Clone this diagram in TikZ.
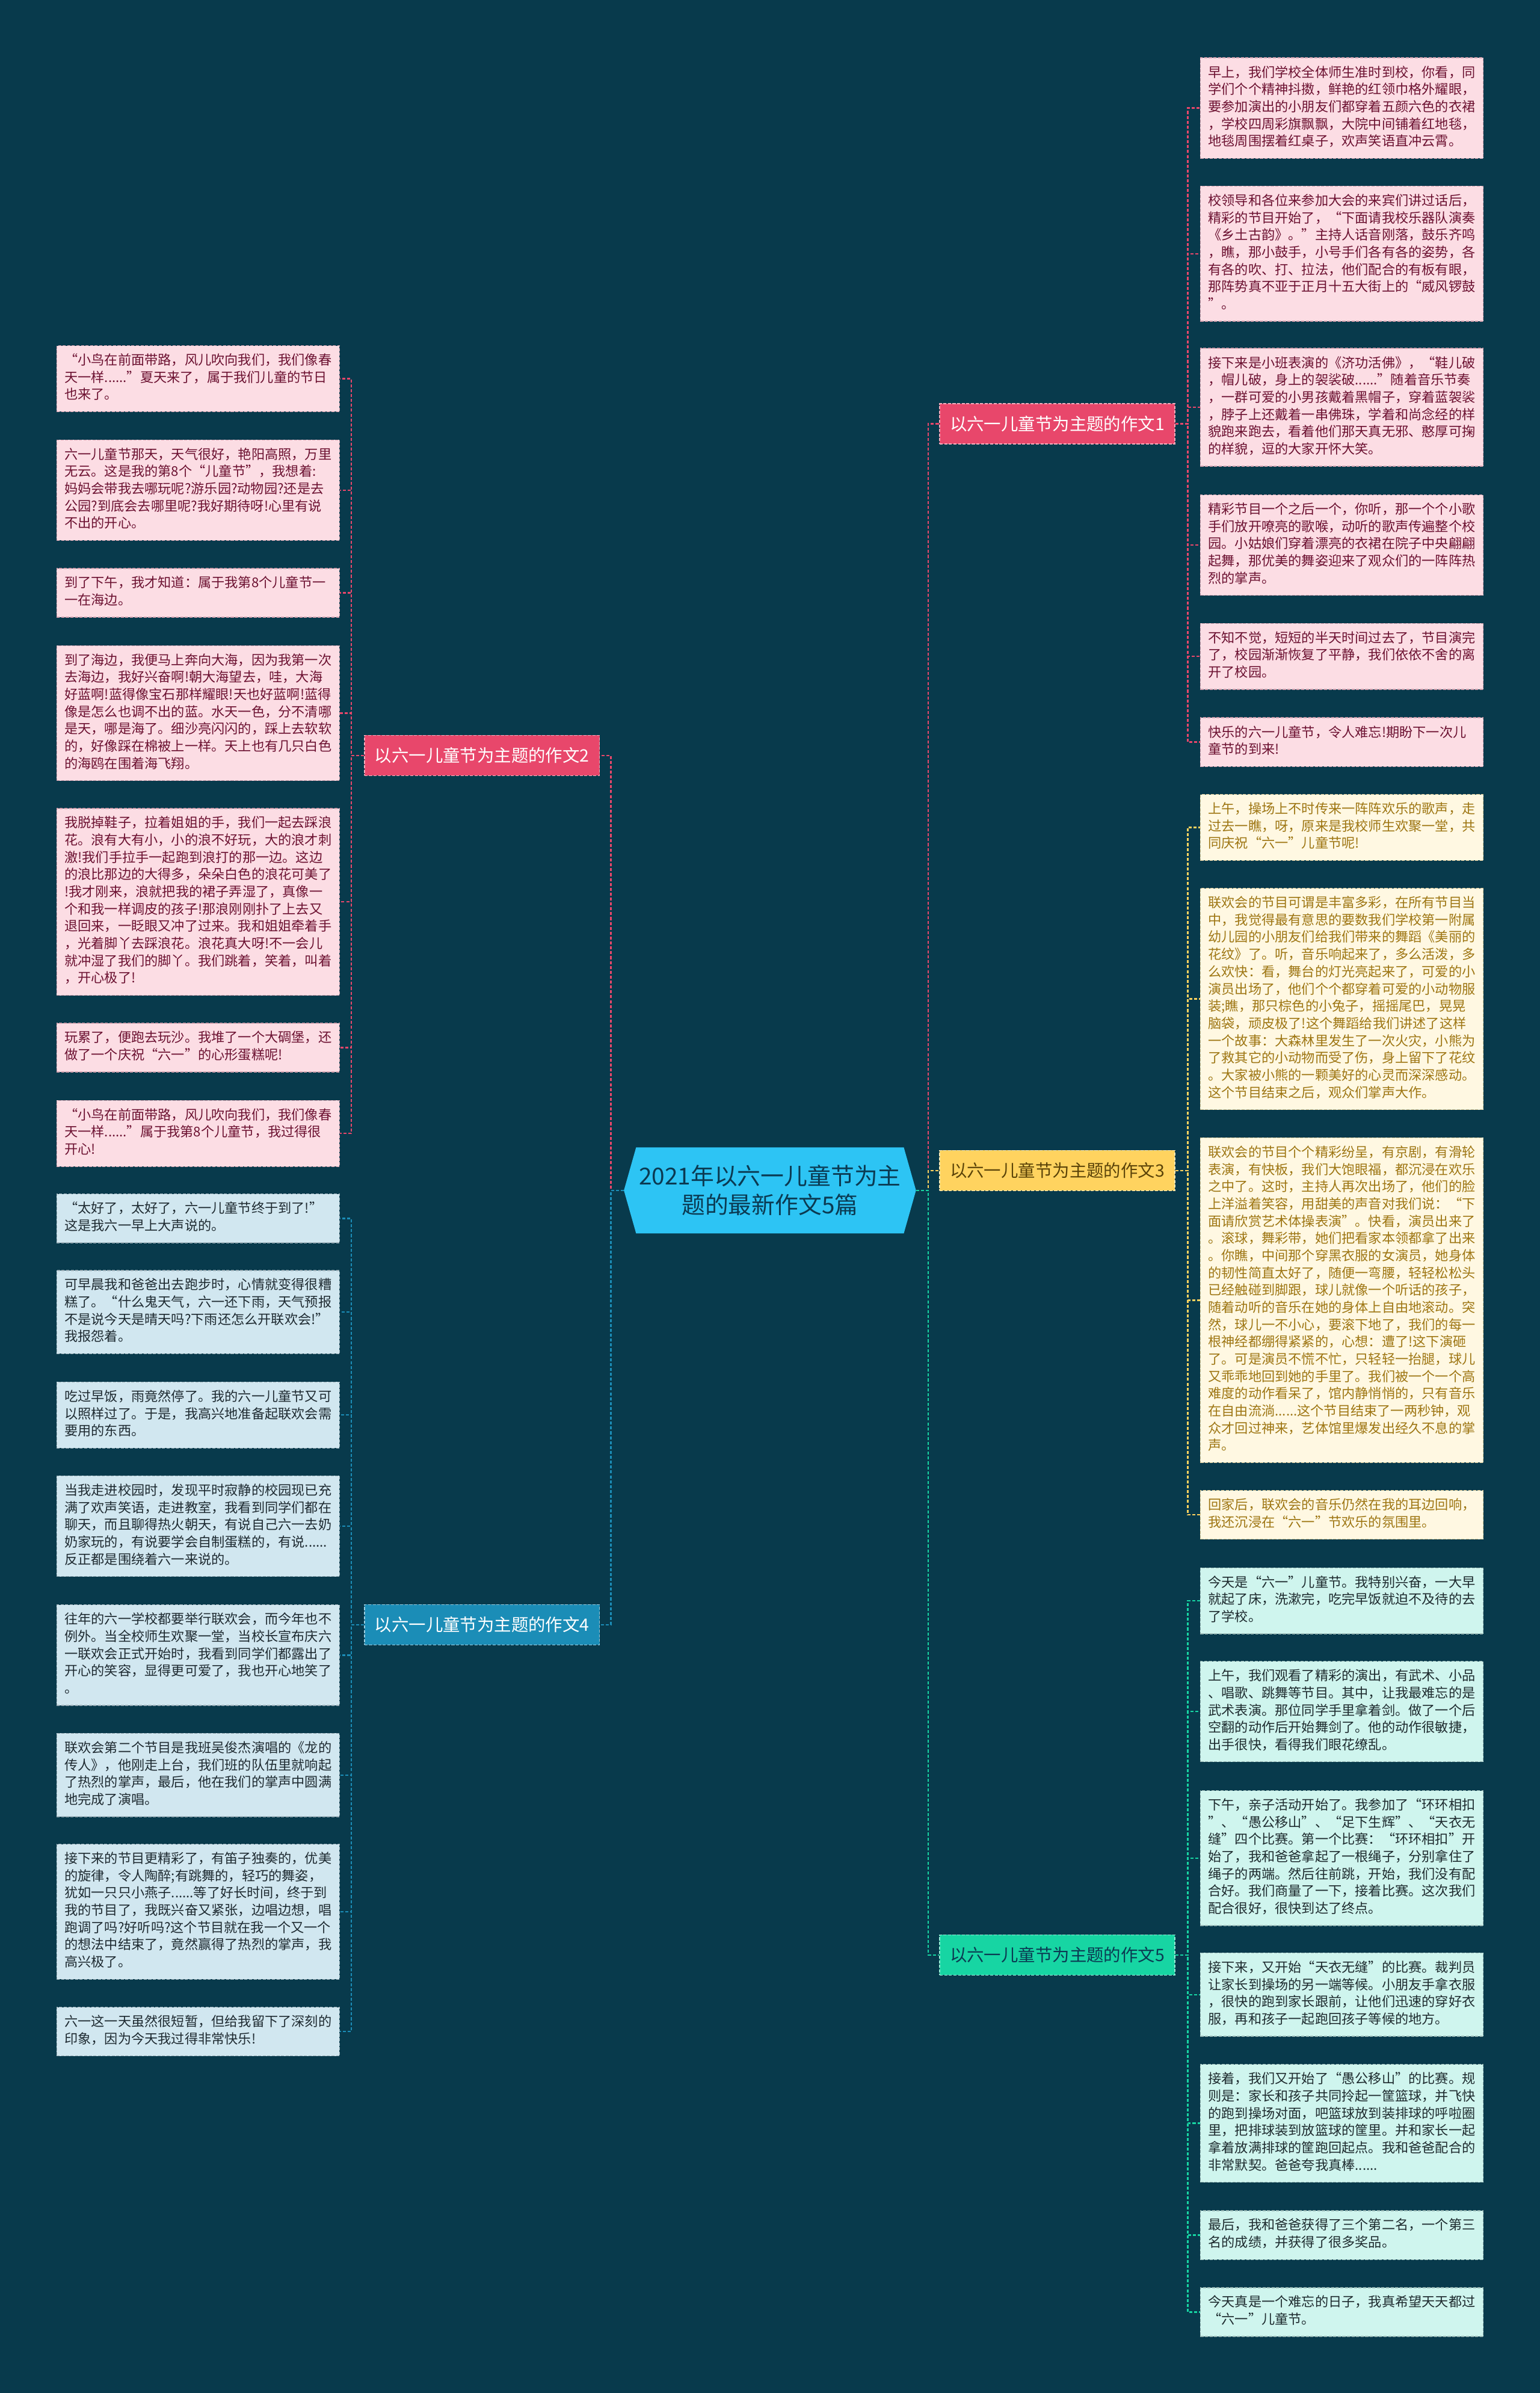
\documentclass[tikz,border=0pt]{standalone}
\usepackage{fontspec}
\setmainfont{Noto Sans CJK SC}
\usetikzlibrary{backgrounds,calc}
\newcommand\leaffont{\fontsize{8.75pt}{11.3pt}\selectfont}
\newcommand\branchfont{\fontsize{11.2pt}{13pt}\selectfont}
\newcommand\rootfont{\fontsize{15.3pt}{19pt}\selectfont}
\definecolor{bg}{HTML}{083A4C}
\definecolor{mainfill}{HTML}{2DC4F4}
\definecolor{maintext}{HTML}{0B3A52}
\definecolor{pinkb}{HTML}{E8476B}
\definecolor{yellowb}{HTML}{FFD35F}
\definecolor{blueb}{HTML}{1B8DB7}
\definecolor{greenb}{HTML}{17D5A3}
\definecolor{pinkf}{HTML}{FCDDE4}
\definecolor{pinkt}{HTML}{6C1131}
\definecolor{yellowf}{HTML}{FFF8E2}
\definecolor{yellowt}{HTML}{9E7613}
\definecolor{greenf}{HTML}{CFF5EE}
\definecolor{greent}{HTML}{1E2B2F}
\definecolor{bluef}{HTML}{D1E7F0}
\definecolor{bluet}{HTML}{1E2A31}
\definecolor{ybtext}{HTML}{5A4308}
\tikzset{
  conn/.style={line width=0.9pt, dash pattern=on 2pt off 1.2pt},
  leaf/.style={draw, line width=0.5pt, dash pattern=on 2pt off 1pt, text width=175pt, align=left,
    inner xsep=5.15pt, inner ysep=4.7pt, font=\leaffont,
    execute at begin node=\strut, execute at end node=\strut},
  leafR/.style={leaf, anchor=north west},
  leafL/.style={leaf, anchor=north east},
  pinkleaf/.style={fill=pinkf, draw=pinkt!30!pinkf, text=pinkt},
  yellowleaf/.style={fill=yellowf, draw=yellowt!35!yellowf, text=yellowt},
  greenleaf/.style={fill=greenf, draw=greent!30!greenf, text=greent},
  blueleaf/.style={fill=bluef, draw=bluet!30!bluef, text=bluet},
  branch/.style={minimum width=154pt, minimum height=26.4pt, inner sep=0pt, font=\branchfont,
    draw, line width=0.6pt, dash pattern=on 2pt off 1pt},
  mainnode/.style={minimum width=175pt, minimum height=56pt, inner sep=0pt, align=center,
    font=\rootfont, text=maintext},
}
\begin{document}
\begin{tikzpicture}[x=1pt,y=-1pt]
\useasboundingbox (0,0) rectangle (1009,1568);

% root
\node[mainnode] (main) at (504.5,780) {2021年以六一儿童节为主\\题的最新作文5篇};
\coordinate (mainR) at ($(main.east)+(8,0)$);
\coordinate (mainL) at ($(main.west)+(-8,0)$);

% branches
\node[branch, fill=pinkb, draw=white!55!pinkb, text=white] (b1) at (692.75,277.7) {以六一儿童节为主题的作文1};
\node[branch, fill=yellowb, draw=white!55!yellowb, text=ybtext] (b3) at (692.75,767) {以六一儿童节为主题的作文3};
\node[branch, fill=greenb, draw=white!55!greenb, text=maintext] (b5) at (692.75,1281) {以六一儿童节为主题的作文5};
\node[branch, fill=pinkb, draw=white!55!pinkb, text=white] (b2) at (315.8,495) {以六一儿童节为主题的作文2};
\node[branch, fill=blueb, draw=white!55!blueb, text=white] (b4) at (315.8,1064.6) {以六一儿童节为主题的作文4};

% ---------- essay 1 leaves
\node[leafR,pinkleaf] (r11) at (786.3,37.6) {早上，我们学校全体师生准时到校，你看，同\\学们个个精神抖擞，鲜艳的红领巾格外耀眼，\\要参加演出的小朋友们都穿着五颜六色的衣裙\\，学校四周彩旗飘飘，大院中间铺着红地毯，\\地毯周围摆着红桌子，欢声笑语直冲云霄。};
\node[leafR,pinkleaf] (r12) at (786.3,121.7) {校领导和各位来参加大会的来宾们讲过话后，\\精彩的节目开始了，“下面请我校乐器队演奏\\《乡土古韵》。”主持人话音刚落，鼓乐齐鸣\\，瞧，那小鼓手，小号手们各有各的姿势，各\\有各的吹、打、拉法，他们配合的有板有眼，\\那阵势真不亚于正月十五大街上的“威风锣鼓\\”。};
\node[leafR,pinkleaf] (r13) at (786.3,228) {接下来是小班表演的《济功活佛》，“鞋儿破\\，帽儿破，身上的袈裟破......”随着音乐节奏\\，一群可爱的小男孩戴着黑帽子，穿着蓝袈裟\\，脖子上还戴着一串佛珠，学着和尚念经的样\\貌跑来跑去，看着他们那天真无邪、憨厚可掬\\的样貌，逗的大家开怀大笑。};
\node[leafR,pinkleaf] (r14) at (786.3,324) {精彩节目一个之后一个，你听，那一个个小歌\\手们放开嘹亮的歌喉，动听的歌声传遍整个校\\园。小姑娘们穿着漂亮的衣裙在院子中央翩翩\\起舞，那优美的舞姿迎来了观众们的一阵阵热\\烈的掌声。};
\node[leafR,pinkleaf] (r15) at (786.3,408.2) {不知不觉，短短的半天时间过去了，节目演完\\了，校园渐渐恢复了平静，我们依依不舍的离\\开了校园。};
\node[leafR,pinkleaf] (r16) at (786.3,470) {快乐的六一儿童节，令人难忘!期盼下一次儿\\童节的到来!};

% ---------- essay 3 leaves
\node[leafR,yellowleaf] (r31) at (786.3,520.3) {上午，操场上不时传来一阵阵欢乐的歌声，走\\过去一瞧，呀，原来是我校师生欢聚一堂，共\\同庆祝“六一”儿童节呢!};
\node[leafR,yellowleaf] (r32) at (786.3,581.8) {联欢会的节目可谓是丰富多彩，在所有节目当\\中，我觉得最有意思的要数我们学校第一附属\\幼儿园的小朋友们给我们带来的舞蹈《美丽的\\花纹》了。听，音乐响起来了，多么活泼，多\\么欢快：看，舞台的灯光亮起来了，可爱的小\\演员出场了，他们个个都穿着可爱的小动物服\\装;瞧，那只棕色的小兔子，摇摇尾巴，晃晃\\脑袋，顽皮极了!这个舞蹈给我们讲述了这样\\一个故事：大森林里发生了一次火灾，小熊为\\了救其它的小动物而受了伤，身上留下了花纹\\。大家被小熊的一颗美好的心灵而深深感动。\\这个节目结束之后，观众们掌声大作。};
\node[leafR,yellowleaf] (r33) at (786.3,745.3) {联欢会的节目个个精彩纷呈，有京剧，有滑轮\\表演，有快板，我们大饱眼福，都沉浸在欢乐\\之中了。这时，主持人再次出场了，他们的脸\\上洋溢着笑容，用甜美的声音对我们说：“下\\面请欣赏艺术体操表演”。快看，演员出来了\\。滚球，舞彩带，她们把看家本领都拿了出来\\。你瞧，中间那个穿黑衣服的女演员，她身体\\的韧性简直太好了，随便一弯腰，轻轻松松头\\已经触碰到脚跟，球儿就像一个听话的孩子，\\随着动听的音乐在她的身体上自由地滚动。突\\然，球儿一不小心，要滚下地了，我们的每一\\根神经都绷得紧紧的，心想：遭了!这下演砸\\了。可是演员不慌不忙，只轻轻一抬腿，球儿\\又乖乖地回到她的手里了。我们被一个一个高\\难度的动作看呆了，馆内静悄悄的，只有音乐\\在自由流淌......这个节目结束了一两秒钟，观\\众才回过神来，艺体馆里爆发出经久不息的掌\\声。};
\node[leafR,yellowleaf] (r34) at (786.3,976.3) {回家后，联欢会的音乐仍然在我的耳边回响，\\我还沉浸在“六一”节欢乐的氛围里。};

% ---------- essay 5 leaves
\node[leafR,greenleaf] (r51) at (786.3,1027) {今天是“六一”儿童节。我特别兴奋，一大早\\就起了床，洗漱完，吃完早饭就迫不及待的去\\了学校。};
\node[leafR,greenleaf] (r52) at (786.3,1088.3) {上午，我们观看了精彩的演出，有武术、小品\\、唱歌、跳舞等节目。其中，让我最难忘的是\\武术表演。那位同学手里拿着剑。做了一个后\\空翻的动作后开始舞剑了。他的动作很敏捷，\\出手很快，看得我们眼花缭乱。};
\node[leafR,greenleaf] (r53) at (786.3,1173) {下午，亲子活动开始了。我参加了“环环相扣\\”、“愚公移山”、“足下生辉”、“天衣无\\缝”四个比赛。第一个比赛：“环环相扣”开\\始了，我和爸爸拿起了一根绳子，分别拿住了\\绳子的两端。然后往前跳，开始，我们没有配\\合好。我们商量了一下，接着比赛。这次我们\\配合很好，很快到达了终点。};
\node[leafR,greenleaf] (r54) at (786.3,1279.4) {接下来，又开始“天衣无缝”的比赛。裁判员\\让家长到操场的另一端等候。小朋友手拿衣服\\，很快的跑到家长跟前，让他们迅速的穿好衣\\服，再和孩子一起跑回孩子等候的地方。};
\node[leafR,greenleaf] (r55) at (786.3,1352.4) {接着，我们又开始了“愚公移山”的比赛。规\\则是：家长和孩子共同拎起一筐篮球，并飞快\\的跑到操场对面，吧篮球放到装排球的呼啦圈\\里，把排球装到放篮球的筐里。并和家长一起\\拿着放满排球的筐跑回起点。我和爸爸配合的\\非常默契。爸爸夸我真棒......};
\node[leafR,greenleaf] (r56) at (786.3,1448.3) {最后，我和爸爸获得了三个第二名，一个第三\\名的成绩，并获得了很多奖品。};
\node[leafR,greenleaf] (r57) at (786.3,1498.7) {今天真是一个难忘的日子，我真希望天天都过\\“六一”儿童节。};

% ---------- essay 2 leaves
\node[leafL,pinkleaf] (l21) at (222.7,226.2) {“小鸟在前面带路，风儿吹向我们，我们像春\\天一样......”夏天来了，属于我们儿童的节日\\也来了。};
\node[leafL,pinkleaf] (l22) at (222.7,288) {六一儿童节那天，天气很好，艳阳高照，万里\\无云。这是我的第8个“儿童节”，我想着:\\妈妈会带我去哪玩呢?游乐园?动物园?还是去\\公园?到底会去哪里呢?我好期待呀!心里有说\\不出的开心。};
\node[leafL,pinkleaf] (l23) at (222.7,372.2) {到了下午，我才知道：属于我第8个儿童节一\\一在海边。};
\node[leafL,pinkleaf] (l24) at (222.7,422.8) {到了海边，我便马上奔向大海，因为我第一次\\去海边，我好兴奋啊!朝大海望去，哇，大海\\好蓝啊!蓝得像宝石那样耀眼!天也好蓝啊!蓝得\\像是怎么也调不出的蓝。水天一色，分不清哪\\是天，哪是海了。细沙亮闪闪的，踩上去软软\\的，好像踩在棉被上一样。天上也有几只白色\\的海鸥在围着海飞翔。};
\node[leafL,pinkleaf] (l25) at (222.7,529.5) {我脱掉鞋子，拉着姐姐的手，我们一起去踩浪\\花。浪有大有小，小的浪不好玩，大的浪才刺\\激!我们手拉手一起跑到浪打的那一边。这边\\的浪比那边的大得多，朵朵白色的浪花可美了\\!我才刚来，浪就把我的裙子弄湿了，真像一\\个和我一样调皮的孩子!那浪刚刚扑了上去又\\退回来，一眨眼又冲了过来。我和姐姐牵着手\\，光着脚丫去踩浪花。浪花真大呀!不一会儿\\就冲湿了我们的脚丫。我们跳着，笑着，叫着\\，开心极了!};
\node[leafL,pinkleaf] (l26) at (222.7,670.2) {玩累了，便跑去玩沙。我堆了一个大碉堡，还\\做了一个庆祝“六一”的心形蛋糕呢!};
\node[leafL,pinkleaf] (l27) at (222.7,720.8) {“小鸟在前面带路，风儿吹向我们，我们像春\\天一样......”属于我第8个儿童节，我过得很\\开心!};

% ---------- essay 4 leaves
\node[leafL,blueleaf] (l41) at (222.7,782.1) {“太好了，太好了，六一儿童节终于到了!”\\这是我六一早上大声说的。};
\node[leafL,blueleaf] (l42) at (222.7,832.2) {可早晨我和爸爸出去跑步时，心情就变得很糟\\糕了。“什么鬼天气，六一还下雨，天气预报\\不是说今天是晴天吗?下雨还怎么开联欢会!”\\我报怨着。};
\node[leafL,blueleaf] (l43) at (222.7,905.3) {吃过早饭，雨竟然停了。我的六一儿童节又可\\以照样过了。于是，我高兴地准备起联欢会需\\要用的东西。};
\node[leafL,blueleaf] (l44) at (222.7,966.8) {当我走进校园时，发现平时寂静的校园现已充\\满了欢声笑语，走进教室，我看到同学们都在\\聊天，而且聊得热火朝天，有说自己六一去奶\\奶家玩的，有说要学会自制蛋糕的，有说......\\反正都是围绕着六一来说的。};
\node[leafL,blueleaf] (l45) at (222.7,1051.3) {往年的六一学校都要举行联欢会，而今年也不\\例外。当全校师生欢聚一堂，当校长宣布庆六\\一联欢会正式开始时，我看到同学们都露出了\\开心的笑容，显得更可爱了，我也开心地笑了\\。};
\node[leafL,blueleaf] (l46) at (222.7,1135.5) {联欢会第二个节目是我班吴俊杰演唱的《龙的\\传人》，他刚走上台，我们班的队伍里就响起\\了热烈的掌声，最后，他在我们的掌声中圆满\\地完成了演唱。};
\node[leafL,blueleaf] (l47) at (222.7,1208.1) {接下来的节目更精彩了，有笛子独奏的，优美\\的旋律，令人陶醉;有跳舞的，轻巧的舞姿，\\犹如一只只小燕子......等了好长时间，终于到\\我的节目了，我既兴奋又紧张，边唱边想，唱\\跑调了吗?好听吗?这个节目就在我一个又一个\\的想法中结束了，竟然赢得了热烈的掌声，我\\高兴极了。};
\node[leafL,blueleaf] (l48) at (222.7,1314.9) {六一这一天虽然很短暂，但给我留下了深刻的\\印象，因为今天我过得非常快乐!};

% ---------- connectors root -> branches
\draw[conn,pinkb] (mainR) -- ++(8,0) |- (b1.west);
\draw[conn,yellowb] (mainR) -- ++(8,0) |- (b3.west);
\draw[conn,greenb] (mainR) -- ++(8,0) |- (b5.west);
\draw[conn,pinkb] (mainL) -- ++(-8.5,0) |- (b2.east);
\draw[conn,blueb] (mainL) -- ++(-8.5,0) |- (b4.east);

% ---------- connectors branches -> leaves
\foreach \n in {r11,r12,r13,r14,r15,r16} \draw[conn,pinkb] (b1.east) -- ++(8.2,0) |- (\n.west);
\foreach \n in {r31,r32,r33,r34} \draw[conn,yellowb] (b3.east) -- ++(8.2,0) |- (\n.west);
\foreach \n in {r51,r52,r53,r54,r55,r56,r57} \draw[conn,greenb] (b5.east) -- ++(8.2,0) |- (\n.west);
\foreach \n in {l21,l22,l23,l24,l25,l26,l27} \draw[conn,pinkb] (b2.west) -- ++(-8.4,0) |- (\n.east);
\foreach \n in {l41,l42,l43,l44,l45,l46,l47,l48} \draw[conn,blueb] (b4.west) -- ++(-8.4,0) |- (\n.east);

% ---------- background and root shape
\begin{pgfonlayer}{background}
\fill[bg] (0,0) rectangle (1009,1568);
\fill[mainfill] (main.north west) -- (main.north east) -- (mainR) -- (main.south east)
  -- (main.south west) -- (mainL) -- cycle;
\end{pgfonlayer}
\end{tikzpicture}
\end{document}
